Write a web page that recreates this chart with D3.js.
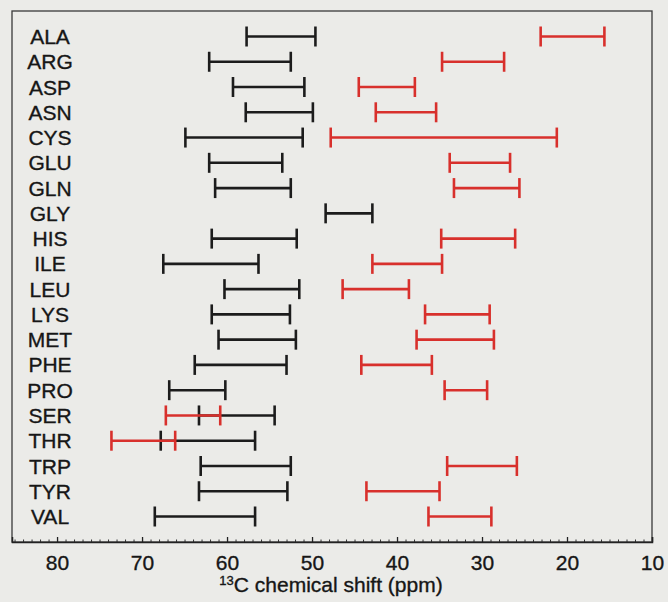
<!DOCTYPE html>
<html>
<head>
<meta charset="utf-8">
<script src="https://cdn.jsdelivr.net/npm/d3@7"></script>
<style>
  body { margin: 0; background: #ebebe8; }
  svg { display: block; }
  text { font-family: "Liberation Sans", Arial, sans-serif; fill: #161616; stroke: #161616; stroke-width: 0.35; }
</style>
</head>
<body>
<div id="root"></div>
<script>
var residues = ["ALA", "ARG", "ASP", "ASN", "CYS", "GLU", "GLN", "GLY", "HIS", "ILE",
    "LEU", "LYS", "MET", "PHE", "PRO", "SER", "THR", "TRP", "TYR", "VAL"];

// C-alpha ranges (black), [high, low] ppm
var alphaRange = [[57.7, 49.6], [62.1, 52.5], [59.3, 50.9], [57.8, 49.9], [64.9, 51.1],
    [62.1, 53.5], [61.4, 52.5], [48.4, 42.9], [61.8, 51.8], [67.5, 56.3],
    [60.3, 51.5], [61.8, 52.6], [61.0, 51.9], [63.8, 53.0], [66.8, 60.2],
    [63.3, 54.4], [67.8, 56.7], [63.1, 52.5], [63.3, 52.9], [68.5, 56.7]];

// C-beta ranges (red), null where there is none
var betaRange = [[23.1, 15.6], [34.7, 27.4], [44.5, 37.9], [42.5, 35.4], [47.8, 21.2],
    [33.8, 26.7], [33.3, 25.6], null, [34.8, 26.1], [42.9, 34.7],
    [46.4, 38.6], [36.7, 29.1], [37.7, 28.6], [44.2, 35.9], [34.4, 29.4],
    [67.2, 60.8], [73.6, 66.1], [34.1, 25.9], [43.6, 35.0], [36.3, 28.9]];

var xTicks = [80, 70, 60, 50, 40, 30, 20, 10];

var width = 668, height = 602;
var m = { left: 12, right: 652, top: 11, bottom: 542 };

var svg = d3.select("#root")
    .append("svg")
    .attr("width", width)
    .attr("height", height);

var x = d3.scaleLinear()
    .domain([85.3, 10])
    .range([m.left, m.right]);

var y = d3.scalePoint()
    .domain(residues)
    .range([36.5, 516.5]);

// frame
svg.append("rect")
    .attr("x", m.left)
    .attr("y", m.top)
    .attr("width", m.right - m.left)
    .attr("height", m.bottom - m.top)
    .attr("fill", "none")
    .attr("stroke", "#3a3a3a")
    .attr("stroke-width", 1.3);

// minor ticks every ppm
var minor = d3.range(11, 86);
svg.append("g")
    .attr("transform", "translate(0," + m.bottom + ")")
    .call(d3.axisTop(x).tickValues(minor).tickSize(2.5).tickFormat(""))
    .call(function (g) {
        g.select(".domain").remove();
        g.selectAll("line").attr("stroke", "#333").attr("stroke-width", 1);
    });

var axis = svg.append("g")
    .attr("transform", "translate(0," + m.bottom + ")")
    .call(d3.axisBottom(x).tickValues(xTicks).tickSize(-5).tickPadding(11).tickFormat(d3.format("d")));
axis.select(".domain").attr("stroke", "#222").attr("stroke-width", 1.5);
axis.selectAll("line").attr("stroke", "#222").attr("stroke-width", 1.3);
axis.selectAll("text")
    .style("font-family", "'Liberation Sans', Arial, sans-serif")
    .attr("font-size", 21)
    .attr("fill", "#161616")
    .attr("dy", "0.8em");

// axis title
var title = svg.append("text")
    .attr("x", 331)
    .attr("y", 592)
    .attr("text-anchor", "middle")
    .attr("font-size", 21);
title.append("tspan").attr("font-size", 13).attr("dy", -7).text("13");
title.append("tspan").attr("dy", 7).text("C chemical shift (ppm)");

// row labels
svg.selectAll("text.res")
    .data(residues)
    .enter()
    .append("text")
    .attr("class", "res")
    .attr("x", 50)
    .attr("y", function (d) { return y(d); })
    .attr("dy", "0.36em")
    .attr("text-anchor", "middle")
    .attr("font-size", 21)
    .text(function (d) { return d; });

function drawRanges(ranges, color) {
    var g = svg.append("g")
        .attr("stroke", color)
        .attr("stroke-width", 2.6)
        .attr("fill", "none");
    var rows = ranges.map(function (r, i) { return { res: residues[i], r: r }; })
        .filter(function (d) { return d.r; });
    var cap = 10;
    var item = g.selectAll("g")
        .data(rows)
        .enter()
        .append("g");
    item.append("line")
        .attr("x1", function (d) { return x(d.r[0]); })
        .attr("x2", function (d) { return x(d.r[1]); })
        .attr("y1", function (d) { return y(d.res); })
        .attr("y2", function (d) { return y(d.res); });
    item.append("line")
        .attr("x1", function (d) { return x(d.r[0]); })
        .attr("x2", function (d) { return x(d.r[0]); })
        .attr("y1", function (d) { return y(d.res) - cap; })
        .attr("y2", function (d) { return y(d.res) + cap; });
    item.append("line")
        .attr("x1", function (d) { return x(d.r[1]); })
        .attr("x2", function (d) { return x(d.r[1]); })
        .attr("y1", function (d) { return y(d.res) - cap; })
        .attr("y2", function (d) { return y(d.res) + cap; });
}

drawRanges(alphaRange, "#1c1c1c");
drawRanges(betaRange, "#d8302c");
</script>
</body>
</html>
